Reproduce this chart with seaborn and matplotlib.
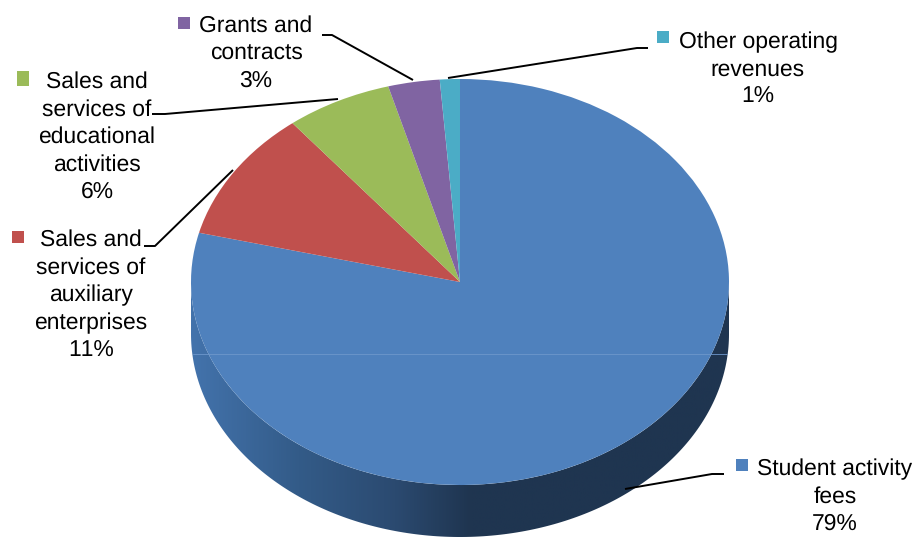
# plot.py - revenue share pie, drawn to look like a tilted 3D pie
import numpy as np
import matplotlib
matplotlib.use("Agg")
import matplotlib.pyplot as plt
import seaborn as sns
from matplotlib.colors import LinearSegmentedColormap
from matplotlib.patches import PathPatch, Rectangle
from matplotlib.path import Path

# --- Data ---
categories = ["Student activity\nfees", "Sales and\nservices of\nauxiliary\nenterprises",
              "Sales and\nservices of\neducational\nactivities", "Grants and\ncontracts",
              "Other operating\nrevenues"]
shares = [78.9, 10.4, 6.4, 3.1, 1.2]
share_labels = ["79%", "11%", "6%", "3%", "1%"]
slice_colors = ["#4f81bd", "#c0504d", "#9bbb59", "#8064a2", "#4bacc6"]

# --- Layout in reference pixels ---
WIDTH, HEIGHT = 915, 539
CX, CY, RX, RY, DEPTH = 460, 282, 269, 203, 52
label_centers = [(835, 496.5), (91, 295.5), (97, 137), (256, 53.5), (758, 69.5)]
marker_boxes = [(736, 459, 12, 12), (12, 231, 12, 12), (17, 71, 12, 15), (178, 17, 12, 12), (657, 31, 12, 12)]
leaders = [
    [(724, 474), (712, 474), (625, 489)],
    [(144, 246), (155, 246), (233, 170)],
    [(152, 114), (165, 114), (338, 99)],
    [(322, 35), (332, 35), (413, 80)],
    [(648, 48), (637, 48), (448, 78)],
]

sns.set_style("white")
plt.rcParams["font.family"] = ["Liberation Sans", "DejaVu Sans"]
plt.rcParams["text.hinting"] = "no_hinting"
plt.rcParams["text.kerning_factor"] = 6
palette = sns.color_palette(slice_colors)

fig = plt.figure(figsize=(WIDTH / 100, HEIGHT / 100), dpi=100)
ax = fig.add_axes([0, 0, 1, 1])

# side wall of the pie, a horizontal gradient clipped to the rim
depth = DEPTH / RY
theta = np.linspace(np.pi, 2 * np.pi, 200)
rim_x = np.cos(theta)
rim_y = np.sin(theta)
verts = np.vstack([np.column_stack([rim_x, rim_y]),
                   np.column_stack([rim_x[::-1], rim_y[::-1] - depth])])
rim_path = Path(np.vstack([verts, verts[0]]), closed=True)
rim_patch = PathPatch(rim_path, fc="none", ec="none", transform=ax.transData)
ax.add_patch(rim_patch)
wall_cmap = LinearSegmentedColormap.from_list(
    "wall", [(0, "#4373ac"), (0.2, "#335b88"), (0.38, "#2b4a70"), (0.52, "#1f3550"), (1, "#1f3550")])
img = ax.imshow(np.linspace(0, 1, 256).reshape(1, -1), cmap=wall_cmap, aspect="auto",
                extent=(-1, 1, -1 - depth, 0.2), zorder=1)
img.set_clip_path(rim_patch)

wedges, _ = ax.pie(shares, colors=palette, startangle=90, counterclock=False, radius=1,
                   wedgeprops={"linewidth": 0, "antialiased": True})
for w in wedges:
    w.set_zorder(2)

ax.set_aspect("auto")
ax.set_xlim(-CX / RX, (WIDTH - CX) / RX)
ax.set_ylim((CY - HEIGHT) / RY, CY / RY)
ax.axis("off")

# overlay in pixel coordinates for the labels and leader lines
over = fig.add_axes([0, 0, 1, 1], facecolor="none")
over.set_xlim(0, WIDTH)
over.set_ylim(HEIGHT, 0)
over.axis("off")

# faint seam across the pie
over.plot([193, 727], [354, 354], color="#6d97cb", lw=0.6)

for name, pct, center, box, leader, color in zip(categories, share_labels, label_centers,
                                                 marker_boxes, leaders, palette):
    over.text(center[0], center[1], f"{name}\n{pct}", ha="center", va="center",
              fontsize=16.5, linespacing=1.37, color="black")
    over.add_patch(Rectangle(box[:2], box[2], box[3], fc=color, ec="none"))
    xs, ys = zip(*leader)
    over.plot(xs, ys, color="black", lw=1.4, solid_capstyle="butt")

fig.savefig("out.png", dpi=100)
